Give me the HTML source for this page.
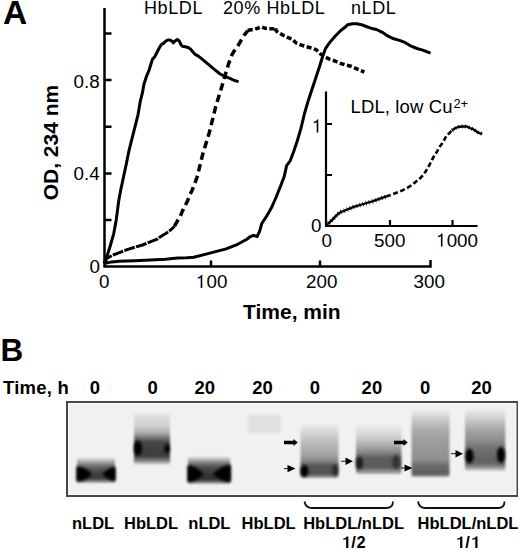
<!DOCTYPE html>
<html><head><meta charset="utf-8"><style>
html,body{margin:0;padding:0;background:#fff;}
body{width:520px;height:550px;overflow:hidden;}
svg{display:block;}
text{font-family:"Liberation Sans", sans-serif;fill:#000;}
.b{font-weight:bold;}
</style></head><body>
<svg width="520" height="550" viewBox="0 0 520 550">
<defs>
<filter id="bl1" x="-20%" y="-20%" width="140%" height="140%"><feGaussianBlur stdDeviation="1.2"/></filter>
<filter id="bl15" x="-50%" y="-50%" width="200%" height="200%"><feGaussianBlur stdDeviation="1.7"/></filter>
<filter id="bl12" x="-50%" y="-50%" width="200%" height="200%"><feGaussianBlur stdDeviation="1.2"/></filter>
<filter id="bl17" x="-50%" y="-50%" width="200%" height="200%"><feGaussianBlur stdDeviation="1.4"/></filter>
<filter id="bl2" x="-30%" y="-30%" width="160%" height="160%"><feGaussianBlur stdDeviation="2"/></filter>
<linearGradient id="g1" gradientUnits="userSpaceOnUse" x1="0" y1="457" x2="0" y2="482.5"><stop offset="0.000" stop-color="#f1f1f1"/><stop offset="0.118" stop-color="#c4c4c4"/><stop offset="0.275" stop-color="#848484"/><stop offset="0.431" stop-color="#5a5a5a"/><stop offset="0.667" stop-color="#424242"/><stop offset="0.863" stop-color="#3e3e3e"/><stop offset="1.000" stop-color="#aaa"/></linearGradient><linearGradient id="g2" gradientUnits="userSpaceOnUse" x1="0" y1="413" x2="0" y2="465"><stop offset="0.000" stop-color="#f1f1f1"/><stop offset="0.058" stop-color="#dedede"/><stop offset="0.231" stop-color="#d2d2d2"/><stop offset="0.365" stop-color="#b4b4b4"/><stop offset="0.481" stop-color="#747474"/><stop offset="0.558" stop-color="#464646"/><stop offset="0.827" stop-color="#3c3c3c"/><stop offset="0.923" stop-color="#828282"/><stop offset="1.000" stop-color="#e8e8e8"/></linearGradient><linearGradient id="g3" gradientUnits="userSpaceOnUse" x1="0" y1="456" x2="0" y2="483.5"><stop offset="0.000" stop-color="#f1f1f1"/><stop offset="0.109" stop-color="#bcbcbc"/><stop offset="0.255" stop-color="#7a7a7a"/><stop offset="0.400" stop-color="#4e4e4e"/><stop offset="0.655" stop-color="#363636"/><stop offset="0.873" stop-color="#323232"/><stop offset="1.000" stop-color="#aaa"/></linearGradient><linearGradient id="g5" gradientUnits="userSpaceOnUse" x1="0" y1="423" x2="0" y2="478"><stop offset="0.000" stop-color="#f1f1f1"/><stop offset="0.164" stop-color="#d6d6d6"/><stop offset="0.345" stop-color="#bcbcbc"/><stop offset="0.582" stop-color="#a4a4a4"/><stop offset="0.691" stop-color="#848484"/><stop offset="0.764" stop-color="#5c5c5c"/><stop offset="0.927" stop-color="#505050"/><stop offset="1.000" stop-color="#aaa"/></linearGradient><linearGradient id="g6" gradientUnits="userSpaceOnUse" x1="0" y1="424" x2="0" y2="474"><stop offset="0.000" stop-color="#f1f1f1"/><stop offset="0.220" stop-color="#d4d4d4"/><stop offset="0.420" stop-color="#b0b0b0"/><stop offset="0.560" stop-color="#888"/><stop offset="0.680" stop-color="#5e5e5e"/><stop offset="0.860" stop-color="#5a5a5a"/><stop offset="1.000" stop-color="#b0b0b0"/></linearGradient><linearGradient id="g7" gradientUnits="userSpaceOnUse" x1="0" y1="409" x2="0" y2="477"><stop offset="0.000" stop-color="#f1f1f1"/><stop offset="0.074" stop-color="#e0e0e0"/><stop offset="0.162" stop-color="#c8c8c8"/><stop offset="0.309" stop-color="#ababab"/><stop offset="0.456" stop-color="#9e9e9e"/><stop offset="0.750" stop-color="#8e8e8e"/><stop offset="0.824" stop-color="#6e6e6e"/><stop offset="0.956" stop-color="#5c5c5c"/><stop offset="1.000" stop-color="#aaa"/></linearGradient><linearGradient id="g8" gradientUnits="userSpaceOnUse" x1="0" y1="408" x2="0" y2="471"><stop offset="0.000" stop-color="#f1f1f1"/><stop offset="0.159" stop-color="#d0d0d0"/><stop offset="0.317" stop-color="#ababab"/><stop offset="0.508" stop-color="#8e8e8e"/><stop offset="0.635" stop-color="#727272"/><stop offset="0.857" stop-color="#606060"/><stop offset="0.921" stop-color="#7a7a7a"/><stop offset="1.000" stop-color="#d8d8d8"/></linearGradient>
<radialGradient id="rb"><stop offset="0" stop-color="#000"/><stop offset="0.55" stop-color="#000" stop-opacity="0.95"/><stop offset="1" stop-color="#000" stop-opacity="0"/></radialGradient>
</defs>
<!-- Panel A -->
<text class="b" x="0" y="23.5" font-size="32.5" transform="translate(3 0) scale(1.03 1)">A</text>
<g font-size="18" letter-spacing="0.6">
<text x="144" y="14.2">HbLDL</text>
<text x="223" y="14.2">20% HbLDL</text>
<text x="351" y="14.2">nLDL</text>
</g>
<!-- axes -->
<g stroke="#000" stroke-width="2.5" fill="none">
<path d="M104.5,8 V266.5 H430.5 V260"/>
<path d="M104.5,33.4 H111.5 M104.5,80 H111.5 M104.5,126.8 H111.5 M104.5,173.6 H111.5 M104.5,220 H111.5"/>
<path d="M211,266.5 V260.5 M320,266.5 V260.5"/>
</g>
<g font-size="18.8">
<text x="73.5" y="87.5">0.8</text>
<text x="73.5" y="180.3">0.4</text>
<text x="89.5" y="272.8">0</text>
<text x="99" y="288">0</text>
<path transform="translate(196.00,288.00) scale(18.8,-18.8)" d="M0.335,0 V0.69 H0.27 C0.25,0.62 0.19,0.58 0.095,0.57 V0.50 C0.17,0.505 0.225,0.53 0.25,0.565 V0 Z"/>
<text x="206.45" y="288" font-size="18.8">0</text>
<text x="216.91" y="288" font-size="18.8">0</text>
<text x="306" y="288">200</text>
<text x="413.5" y="288">300</text>
</g>
<text class="b" x="243" y="318.5" font-size="21">Time, min</text>
<text class="b" font-size="21" transform="translate(57.6,200.3) rotate(-90)">OD, 234 nm</text>
<!-- curves -->
<g fill="none" stroke="#000" stroke-width="3" stroke-linejoin="round" stroke-linecap="butt">
<polyline points="104.5,264.0 106.3,258.5 110.5,245.0 113.8,233.3 116.3,219.4 118.7,201.0 120.8,189.6 123.5,177.0 126.2,164.5 128.7,151.9 131.8,139.4 135.0,126.8 138.1,114.3 140.2,101.7 142.3,93.4 144.0,84.0 146.7,75.8 148.9,70.7 151.1,63.5 152.5,59.1 154.7,56.9 156.9,52.5 159.1,48.2 161.3,44.5 163.5,43.4 165.6,41.3 167.8,39.9 170.0,39.9 172.2,41.3 173.3,42.8 175.1,40.9 177.3,39.5 179.2,40.9 180.9,44.5 182.4,46.3 185.3,46.7 188.2,47.5 190.4,48.9 192.5,51.5 195.5,54.7 198.4,56.2 201.5,58.7 208.1,64.2 214.6,69.6 220.1,74.0 224.5,76.2 229.9,78.4 234.3,80.5 238.6,81.6"/>
<polyline points="104.0,263.5 111.7,261.9 119.4,261.2 134.8,260.7 150.2,260.1 165.5,259.2 177.8,258.1 186.9,257.7 193.8,257.2 203.1,254.9 214.6,251.9 226.2,248.9 237.7,244.3 246.9,239.2 250.0,236.8 253.5,235.3 257.1,236.5 259.5,231.7 261.8,223.5 266.5,216.4 271.3,208.1 276.0,197.5 280.7,185.7 284.3,176.2 286.6,165.6 290.2,160.8 293.7,151.4 297.3,140.7 300.8,128.9 304.5,113.5 308.4,100.2 312.2,88.7 316.0,77.3 319.8,65.8 322.7,56.3 325.5,48.6 329.4,42.9 335.1,36.2 340.8,30.5 345.0,27.3 347.7,24.7 352.3,23.8 356.9,23.8 361.5,24.7 366.2,26.5 370.8,28.2 376.5,29.5 382.3,32.3 388.1,36.2 393.8,38.8 399.6,40.4 405.4,42.7 411.2,46.2 416.9,48.5 422.7,50.1 428.5,52.4 430.5,53.2"/>
<polyline points="104.0,263.0 107.1,258.1 113.2,255.0 119.4,252.7 127.1,249.6 134.8,247.3 142.5,245.0 150.2,241.9 157.8,238.8 160.0,237.1 165.8,233.5 170.9,229.8 174.5,226.2" stroke-dasharray="11 1.3" stroke-width="3"/>
<polyline points="174.5,226.2 178.2,219.6 180.4,216.0 182.5,210.9 184.7,206.5 187.6,200.7 189.8,194.9 192.0,190.5 195.6,181.1 197.1,177.0 199.4,167.8 202.6,154.7 205.9,143.8 209.2,132.9 212.5,119.8 215.7,106.7 219.0,95.8 222.3,84.9 225.5,74.0 228.8,63.1 232.1,54.4 235.0,49.5 238.5,44.9 241.2,40.2 244.5,34.8 247.9,30.5" stroke-dasharray="7.5 4.5" stroke-width="3.5"/>
<polyline points="247.9,30.5 250.6,29.7 253.9,29.7 257.3,28.3 261.3,26.7 265.4,28.3 269.4,28.7 274.1,28.7 275.5,27.4 276.1,30.8 278.8,32.8 282.9,35.1 286.9,37.2 292.3,39.1 296.0,42.9 300.7,44.8 306.5,46.7 312.2,48.2 316.0,49.6 317.9,51.5 319.8,53.4 323.6,56.3 329.4,59.1 335.1,61.0 340.8,63.5 345.0,64.8 350.6,66.2 359.2,70.0 364.4,72.0" stroke-dasharray="5 2.5" stroke-width="3.5"/>
</g>
<!-- inset -->
<g stroke="#000" stroke-width="2.2" fill="none">
<path d="M326,91.5 V226 H477.5"/>
<path d="M326,124 H332 M326,175 H332"/>
<path d="M390,226 V220 M452.5,226 V220"/>
</g>
<g fill="none" stroke="#000" stroke-linejoin="round">
<polyline points="326.5,225.5 329.5,222.3 332.7,219.4 335.5,216.4 338.5,213.7 341.0,212.0 344.2,210.8 353.8,206.9 363.5,204.0 373.1,201.2 382.7,197.7 386.0,196.6" stroke-width="2.3"/>
<polyline points="326.5,225.5 329.5,222.3 332.7,219.4 335.5,216.4 338.5,213.7 341.0,212.0 344.2,210.8 353.8,206.9 363.5,204.0 373.1,201.2 382.7,197.7 386.0,196.6" stroke-width="4.5" stroke-dasharray="0.7 2.6"/>
<polyline points="386.0,196.6 392.3,194.4 401.9,190.6 408.0,187.5 413.2,184.0 416.1,181.6 420.3,178.1 423.2,175.1 425.6,171.6 427.3,168.6 429.7,164.5 431.5,161.0 433.3,157.4 435.6,153.9 437.4,150.9 439.2,147.4 441.5,144.4 443.3,141.5 445.6,137.3 447.4,135.0 449.8,132.6 452.1,130.3" stroke-width="2.6" stroke-dasharray="5 2.6"/>
<polyline points="452.1,130.3 455.7,127.9 458.5,127.0 462.3,126.5 466.9,126.5 470.0,128.1 473.1,129.2 476.2,131.2 479.2,133.2 482.3,133.8" stroke-width="2.3"/>
<polyline points="452.1,130.3 455.7,127.9 458.5,127.0 462.3,126.5 466.9,126.5 470.0,128.1 473.1,129.2 476.2,131.2 479.2,133.2 482.3,133.8" stroke-width="4" stroke-dasharray="0.7 2.8"/>
</g>
<g font-size="18.8">
<path transform="translate(312.00,132.50) scale(18.8,-18.8)" d="M0.335,0 V0.69 H0.27 C0.25,0.62 0.19,0.58 0.095,0.57 V0.50 C0.17,0.505 0.225,0.53 0.25,0.565 V0 Z"/>
<text x="311" y="232">0</text>
<text x="321.5" y="246.5">0</text>
<text x="374" y="246.5">500</text>
<path transform="translate(436.20,246.50) scale(18.8,-18.8)" d="M0.335,0 V0.69 H0.27 C0.25,0.62 0.19,0.58 0.095,0.57 V0.50 C0.17,0.505 0.225,0.53 0.25,0.565 V0 Z"/>
<text x="446.65" y="246.5" font-size="18.8">0</text>
<text x="457.11" y="246.5" font-size="18.8">0</text>
<text x="467.56" y="246.5" font-size="18.8">0</text>
<text x="350.5" y="112.8" letter-spacing="0.12" font-size="18.5">LDL, low Cu<tspan font-size="13" dx="0.8" dy="-4.8" letter-spacing="0">2+</tspan></text>
</g>
<!-- Panel B -->
<text class="b" x="0.5" y="361.2" font-size="31.5">B</text>
<g class="b" font-size="18.5" font-weight="bold">
<text x="3" y="394.3" letter-spacing="0.25">Time, h</text>
<text x="89.8" y="394.3">0</text>
<text x="147.5" y="394.3">0</text>
<text x="194.5" y="394.3">20</text>
<text x="252.2" y="394.3">20</text>
<text x="309.8" y="394.3">0</text>
<text x="361.6" y="394.3">20</text>
<text x="420" y="394.3">0</text>
<text x="471.2" y="394.3">20</text>
</g>
<!-- gel box -->

<rect x="66" y="401" width="452" height="96" fill="#474747"/>
<rect x="68" y="403" width="448.5" height="92" fill="#fafafa"/>
<rect x="69" y="404" width="446.5" height="90" fill="#f1f1f1"/>
<g filter="url(#bl1)">
<rect x="77" y="457" width="38" height="26" rx="2" fill="url(#g1)"/>
<rect x="134" y="413" width="36" height="52" rx="2" fill="url(#g2)"/>
<rect x="188" y="456" width="42.3" height="28" rx="2" fill="url(#g3)"/>
<rect x="300.5" y="423" width="38" height="55" rx="2" fill="url(#g5)"/>
<rect x="356" y="424" width="45.5" height="50" rx="2" fill="url(#g6)"/>
<rect x="411.5" y="409" width="38" height="68" rx="2" fill="url(#g7)"/>
<rect x="465" y="408" width="40.3" height="63" rx="2" fill="url(#g8)"/>
</g>
<rect x="248" y="415" width="33" height="18" fill="#e0e0e0" filter="url(#bl15)"/>
<g filter="url(#bl15)" fill="#000">
<ellipse cx="138" cy="448" rx="4" ry="7.5"/>
<ellipse cx="167" cy="448.5" rx="2.5" ry="4.5"/>
<ellipse cx="304.5" cy="471" rx="4" ry="6"/>
<ellipse cx="335" cy="470" rx="3" ry="5.5" fill="#2a2a2a"/>
<ellipse cx="359.5" cy="463" rx="3.5" ry="6.5" fill="#1a1a1a"/>
<ellipse cx="396" cy="462" rx="4" ry="7" fill="#333"/>
<ellipse cx="469.5" cy="456" rx="4" ry="7.5"/>
<ellipse cx="501" cy="455" rx="4" ry="8"/>
</g>
<g>
<g filter="url(#bl17)" fill="#000">
<path d="M76.5,466.5 C84,466.5 89,471 92,474 C89,477 84,481.5 76.5,481.5 Z"/>
<path d="M115.5,467 C110,467 105.5,471 102,474 C105.5,477 110,481 115.5,481 Z"/>
<path d="M187.5,465.5 C195,465.5 200,470.5 204,474 C200,477.5 195,482 187.5,482 Z"/>
<path d="M230.8,465 C223,465 217.5,470 213,474 C217.5,478 223,482 230.8,482 Z"/>
</g>
<g fill="#000">
<path d="M284,440.8 H293.5 V439 L297.8,442.5 L293.5,446 V444.2 H284 Z"/>
<path d="M394,440.8 H403.5 V439 L407.8,442.5 L403.5,446 V444.2 H394 Z"/>
<path d="M287.5,465 L295.5,468.6 L287.5,472.2 Z"/>
<path d="M345.5,457.5 L353,461.2 L345.5,465 Z"/>
<path d="M404.5,464.5 L412.5,468 L404.5,471.5 Z"/>
<path d="M455.5,450 L463,453.7 L455.5,457.5 Z"/>
</g>
<g stroke="#000" stroke-width="0.9">
<path d="M284,468.6 H288 M341,461.2 H346 M401,468 H405 M451,453.7 H456"/>
</g>

<!-- lane labels -->
<g font-size="16.5" font-weight="bold">
<text x="72" y="528.8">nLDL</text>
<text x="124" y="528.8">HbLDL</text>
<text x="188.3" y="528.8">nLDL</text>
<text x="241.6" y="528.8">HbLDL</text>
<text x="303.2" y="528.8">HbLDL/nLDL</text>
<text x="417.6" y="528.8">HbLDL/nLDL</text>
<path transform="translate(342.00,548.00) scale(16.5,-16.5)" d="M0.385,0 V0.70 H0.28 C0.255,0.625 0.185,0.59 0.08,0.58 V0.49 C0.15,0.495 0.215,0.515 0.25,0.545 V0 Z"/>
<text x="351.27" y="548" font-size="16.5" font-weight="bold">/</text>
<text x="356.46" y="548" font-size="16.5" font-weight="bold">2</text>
<path transform="translate(456.00,548.00) scale(16.5,-16.5)" d="M0.385,0 V0.70 H0.28 C0.255,0.625 0.185,0.59 0.08,0.58 V0.49 C0.15,0.495 0.215,0.515 0.25,0.545 V0 Z"/>
<text x="465.37" y="548" font-size="16.5" font-weight="bold">/</text>
<path transform="translate(471.16,548.00) scale(16.5,-16.5)" d="M0.385,0 V0.70 H0.28 C0.255,0.625 0.185,0.59 0.08,0.58 V0.49 C0.15,0.495 0.215,0.515 0.25,0.545 V0 Z"/>
</g>
<g fill="none" stroke="#111" stroke-width="1.8">
<path d="M304.5,501.5 Q305.5,508 312,508 H386 Q393,508 393,501.5"/>
<path d="M418,501.5 Q419,508 425.5,508 H498 Q504.5,508 504.5,501.5"/>
</g>
</svg>
</body></html>
